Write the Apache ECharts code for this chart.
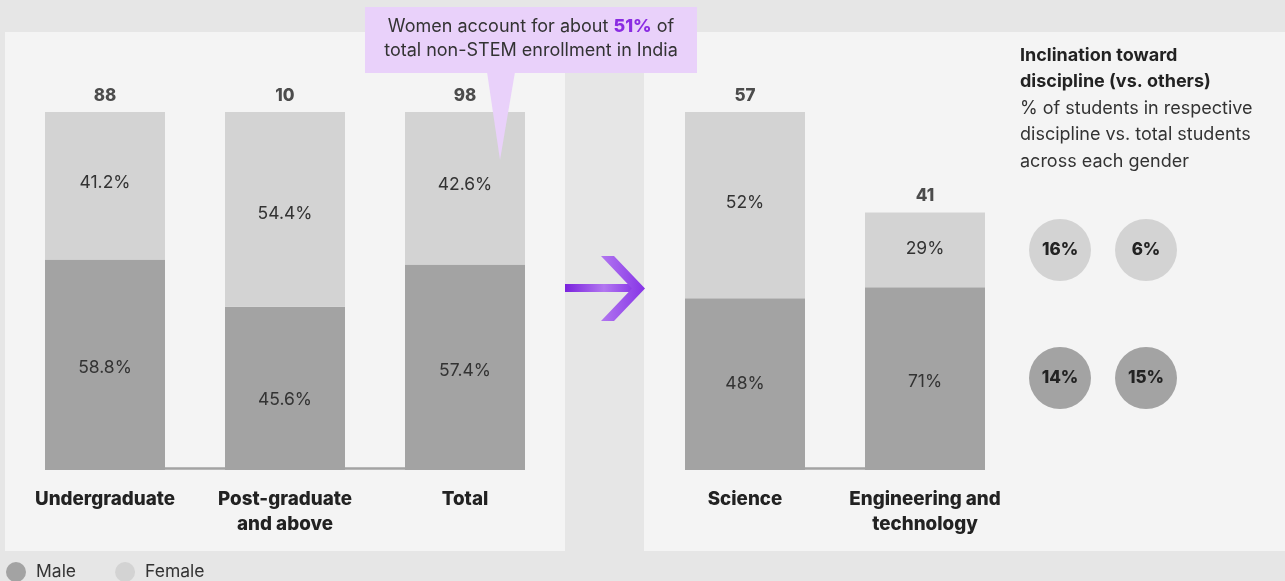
<!DOCTYPE html>
<html><head><meta charset="utf-8">
<script src="https://cdn.jsdelivr.net/npm/echarts@6/dist/echarts.min.js"></script>
<style>html,body{margin:0;padding:0;background:#e6e6e6}#c{width:1285px;height:581px}</style>
</head><body><div id="c"></div>
<script>
// ---- data ----
const levelCats = ['Undergraduate', 'Post-graduate\nand above', 'Total'];
const levelTotals = [88, 10, 98];
const levelMale = [58.8, 45.6, 57.4];
const levelFemale = [41.2, 54.4, 42.6];
const discCats = ['Science', 'Engineering and\ntechnology'];
const discTotals = [57, 41];
const discMale = [48, 71];
const discFemale = [52, 29];
const bubbleCols = ['Science', 'Engineering and technology'];
const bubbleRows = ['Female', 'Male'];
const inclFemale = [16, 6];
const inclMale = [14, 15];

// ---- style ----
const FONT = 'Inter';
const MALE = '#a3a3a3', FEMALE = '#d3d3d3', TXT = '#222';
const BARW = 120;
// small vertical nudges of in-bar labels, as placed in the original
const levelMaleLabelDy = [3, 11, 3];
const levelFemaleLabelDy = [-3, 4, -4];
const discMaleLabelDy = [0, 3];
const discFemaleLabelDy = [-2, -1];

const chart = echarts.init(document.getElementById('c'), null, {renderer: 'canvas'});

const pctLabel = (dec) => ({
  show: true, position: 'inside', color: '#333', fontFamily: FONT, fontSize: 17.5,
  formatter: p => p.data.pct.toFixed(dec) + '%'
});
const segData = (vals, pcts, dys) => vals.map((v, i) => ({value: v, pct: pcts[i], label: {offset: [0, dys[i]]}}));
const totalLabel = arr => ({
  show: true, position: 'top', distance: 8, color: TXT, fontFamily: FONT, fontSize: 17, fontWeight: 800,
  formatter: p => String(arr[p.dataIndex])
});
const catAxis = (gi, data) => ({
  type: 'category', gridIndex: gi, data: data,
  axisLine: {show: false}, axisTick: {show: false},
  axisLabel: {color: TXT, fontFamily: FONT, fontSize: 18.8, fontWeight: 800, margin: 17, lineHeight: 25, interval: 0}
});

chart.setOption({
  backgroundColor: '#e6e6e6',
  animation: false,
  textStyle: {fontFamily: FONT},
  legend: {
    data: ['Male', 'Female'], left: 1, top: 557, icon: 'circle', itemWidth: 20, itemHeight: 20, itemGap: 39,
    textStyle: {color: '#333', fontFamily: FONT, fontSize: 17.5, padding: [0, 0, 0, 5]}
  },
  grid: [
    {left: 15, width: 540, top: 112, height: 358},
    {left: 655, width: 360, top: 112, height: 358},
    {left: 1060, width: 86, top: 250, height: 128}
  ],
  xAxis: [
    catAxis(0, levelCats),
    catAxis(1, discCats),
    {type: 'category', gridIndex: 2, data: bubbleCols, boundaryGap: false, show: false}
  ],
  yAxis: [
    {type: 'value', gridIndex: 0, min: 0, max: 100, show: false},
    {type: 'value', gridIndex: 1, min: 0, max: Math.max(...discTotals), show: false},
    {type: 'category', gridIndex: 2, data: bubbleRows, boundaryGap: false, inverse: true, show: false}
  ],
  series: [
    {name: 'Male', type: 'bar', xAxisIndex: 0, yAxisIndex: 0, stack: 'l', barWidth: BARW,
      itemStyle: {color: MALE}, label: pctLabel(1), data: segData(levelMale, levelMale, levelMaleLabelDy)},
    {name: 'Female', type: 'bar', xAxisIndex: 0, yAxisIndex: 0, stack: 'l', barWidth: BARW,
      itemStyle: {color: FEMALE}, label: pctLabel(1), data: segData(levelFemale, levelFemale, levelFemaleLabelDy)},
    {name: 'totL', type: 'scatter', xAxisIndex: 0, yAxisIndex: 0, symbolSize: 0, silent: true,
      label: totalLabel(levelTotals), data: levelMale.map((m, i) => [i, m + levelFemale[i]])},
    {name: 'Male', type: 'bar', xAxisIndex: 1, yAxisIndex: 1, stack: 'r', barWidth: BARW,
      itemStyle: {color: MALE}, label: pctLabel(0),
      data: segData(discTotals.map((t, i) => t * discMale[i] / 100), discMale, discMaleLabelDy)},
    {name: 'Female', type: 'bar', xAxisIndex: 1, yAxisIndex: 1, stack: 'r', barWidth: BARW,
      itemStyle: {color: FEMALE}, label: pctLabel(0),
      data: segData(discTotals.map((t, i) => t * discFemale[i] / 100), discFemale, discFemaleLabelDy)},
    {name: 'totR', type: 'scatter', xAxisIndex: 1, yAxisIndex: 1, symbolSize: 0, silent: true,
      label: totalLabel(discTotals), data: discTotals.map((t, i) => [i, t])},
    {name: 'Female', type: 'scatter', xAxisIndex: 2, yAxisIndex: 2, symbolSize: 62, itemStyle: {color: FEMALE, opacity: 1},
      label: {show: true, position: 'inside', color: TXT, fontFamily: FONT, fontSize: 17, fontWeight: 800, formatter: p => p.value[2] + '%'},
      data: inclFemale.map((v, i) => [i, 0, v])},
    {name: 'Male', type: 'scatter', xAxisIndex: 2, yAxisIndex: 2, symbolSize: 62, itemStyle: {color: MALE, opacity: 1},
      label: {show: true, position: 'inside', color: TXT, fontFamily: FONT, fontSize: 17, fontWeight: 800, formatter: p => p.value[2] + '%'},
      data: inclMale.map((v, i) => [i, 1, v])}
  ]
});

// baselines derived from the axes
function baseline(xi, yi, n) {
  const a = chart.convertToPixel({xAxisIndex: xi, yAxisIndex: yi}, [0, 0]);
  const b = chart.convertToPixel({xAxisIndex: xi, yAxisIndex: yi}, [n - 1, 0]);
  return {type: 'line', z: 1, shape: {x1: a[0] - BARW / 2, y1: a[1] - 1.5, x2: b[0] + BARW / 2, y2: a[1] - 1.5},
    style: {stroke: MALE, lineWidth: 2.5}};
}

const arrowGrad = new echarts.graphic.LinearGradient(0, 0, 1, 0, [
  {offset: 0, color: '#7a22dd'}, {offset: 0.55, color: '#b277f0'}, {offset: 1, color: '#8634e6'}
]);

chart.setOption({
  graphic: [
    {type: 'rect', z: 0, shape: {x: 5, y: 32, width: 560, height: 519}, style: {fill: '#f4f4f4'}},
    {type: 'rect', z: 0, shape: {x: 644, y: 32, width: 641, height: 519}, style: {fill: '#f4f4f4'}},
    baseline(0, 0, levelCats.length),
    baseline(1, 1, discCats.length),
    // callout
    {type: 'rect', z: 20, shape: {x: 365, y: 7, width: 332, height: 66}, style: {fill: '#e9d1fa'}},
    {type: 'polygon', z: 20, shape: {points: [[487, 72], [515, 72], [500, 160]]}, style: {fill: '#e9d1fa'}},
    {type: 'text', z: 21, x: 531, y: 39, style: {
      text: 'Women account for about {p|51%} of\ntotal non-STEM enrollment in India',
      align: 'center', verticalAlign: 'middle', fill: '#333', font: '18px Inter', lineHeight: 24,
      rich: {p: {fill: '#8a2be2', fontWeight: 800, fontSize: 18, fontFamily: FONT, lineHeight: 24}}
    }},
    // arrow
    {type: 'rect', z: 20, shape: {x: 565, y: 284, width: 71, height: 8}, style: {fill: arrowGrad}},
    {type: 'polygon', z: 20, shape: {points: [[601, 256], [614, 256], [645, 288.5], [614, 321], [601, 321], [632, 288.5]]},
      style: {fill: new echarts.graphic.LinearGradient(0, 0, 1, 0, [{offset: 0, color: '#b277f0'}, {offset: 1, color: '#8634e6'}])}},
    // side note
    {type: 'text', z: 21, x: 1020, y: 42, style: {
      text: '{b|Inclination toward}\n{b|discipline (vs. others)}\n{r|% of students in respective}\n{r|discipline vs. total students}\n{r|across each gender}',
      fill: TXT, verticalAlign: 'top',
      rich: {
        b: {fontFamily: FONT, fontSize: 18, fontWeight: 700, lineHeight: 26.5, fill: TXT},
        r: {fontFamily: FONT, fontSize: 18, lineHeight: 26.5, fill: '#333'}
      }
    }}
  ]
});
</script>
</body></html>
